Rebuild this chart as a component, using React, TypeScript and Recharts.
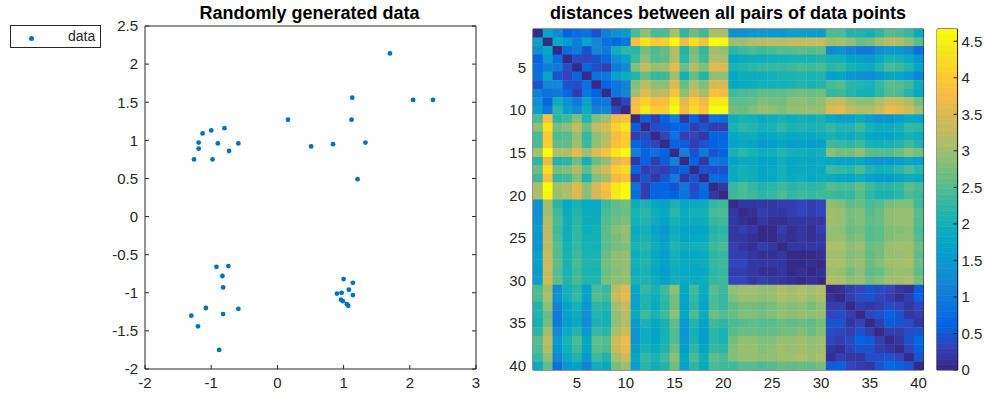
import React from 'react'
import { ScatterChart, Scatter, XAxis, YAxis, Legend, BarChart, Bar, ReferenceArea } from 'recharts'

// the 40 random points, in the order used for the distance matrix
const pointX = [1.21, 1.7, 0.16, 0.84, 1.12, 0.51, 1.33, 1.13, 2.05, 2.35,
  -0.92, -1.08, -0.82, -0.59, -0.88, -0.74, -0.82, -0.83, -1.2, -1.3,
  1.0, 1.14, 1.08, 0.9, 0.97, 1.14, 0.99, 1.05, 0.96, 1.07,
  -1.13, -1.19, -0.9, -0.8, -0.73, -0.98, -1.26, -1.19, -1.0, -0.59]
const pointY = [0.49, 2.14, 1.27, 0.95, 1.27, 0.92, 0.97, 1.56, 1.53, 1.53,
  -0.66, -1.2, -0.93, -1.21, -1.75, -0.65, -1.28, -0.78, -1.44, -1.3,
  -0.82, -0.87, -0.96, -1.01, -1.0, -1.03, -1.11, -1.15, -1.09, -1.17,
  1.09, 0.97, 0.96, 1.16, 0.86, 0.75, 0.75, 0.89, 1.13, 0.96]

const scatterXTicks = [-2, -1, 0, 1, 2, 3]
const scatterYTicks = [-2, -1.5, -1, -0.5, 0, 0.5, 1, 1.5, 2, 2.5]
const matrixTicks = [5, 10, 15, 20, 25, 30, 35, 40]
const colorbarTicks = [0, 0.5, 1, 1.5, 2, 2.5, 3, 3.5, 4, 4.5]

// parula colormap key colours
const PARULA = ['#352a87', '#3243ba', '#0363e1', '#0d75dc', '#1485d4', '#0998d1', '#06a7c6', '#15b1b4',
  '#38b99e', '#65be86', '#92bf73', '#b7bd64', '#d9ba56', '#f8bb44', '#fcce2e', '#f5e41d', '#f9fb0e']

const FONT = '"Liberation Sans", Arial, Helvetica, sans-serif'
const AX = '#262626'
const BLUE = '#0072bd'

function hexToRgb(h: string) {
  return [parseInt(h.slice(1, 3), 16), parseInt(h.slice(3, 5), 16), parseInt(h.slice(5, 7), 16)]
}

function parula(i: number) {
  const t = (i / 63) * (PARULA.length - 1)
  const k = Math.min(Math.floor(t), PARULA.length - 2)
  const f = t - k
  const a = hexToRgb(PARULA[k])
  const b = hexToRgb(PARULA[k + 1])
  const c = a.map((v, n) => Math.round(v + (b[n] - v) * f))
  return `rgb(${c[0]},${c[1]},${c[2]})`
}

const points = pointX.map((x, i) => ({ x, y: pointY[i] }))

// distances between all pairs
const dist = pointX.map((x1, i) => pointX.map((x2, j) => Math.hypot(x1 - x2, pointY[i] - pointY[j])))
const vmax = Math.max(...dist.flat())

const cells: { x: number; y: number; fill: string }[] = []
dist.forEach((row, r) => row.forEach((v, c) => {
  const idx = Math.min(63, Math.floor((v / vmax) * 64))
  cells.push({ x: c + 1, y: r + 1, fill: parula(idx) })
}))

const bandRow: Record<string, number | string> = { name: 'cb' }
for (let i = 0; i < 64; i++) bandRow[`b${i}`] = vmax / 64

// heatmap plot area is 390.5 x 341 px for 40 x 40 cells
const CW = 390.5 / 40
const CH = 341 / 40

const tickStyle = { fontSize: 15, fill: AX, fontFamily: FONT }

const Dot = (p: any) => <circle cx={p.cx} cy={p.cy} r={2.4} fill={BLUE} />
const CellRect = (p: any) => (
  <rect x={p.cx - CW / 2} y={p.cy - CH / 2} width={CW + 0.4} height={CH + 0.4} fill={p.payload.fill} />
)

const LegendBox = () => (
  <div style={{ width: 89, height: 21, border: `1px solid ${AX}`, background: '#fff', position: 'relative', fontFamily: FONT }}>
    <span style={{ position: 'absolute', left: 17.5, top: 9.5, width: 5, height: 5, borderRadius: 3, background: BLUE }} />
    <span style={{ position: 'absolute', left: 57, top: 2, fontSize: 14, color: AX }}>data</span>
  </div>
)

const titleStyle = (center: number): React.CSSProperties => ({
  position: 'absolute', left: center - 250, width: 500, top: 3, textAlign: 'center',
  fontFamily: FONT, fontWeight: 'bold', fontSize: 18, lineHeight: '20px', color: '#000',
})

export default function App() {
  return (
    <div style={{ position: 'absolute', left: 0, top: 0, width: 984, height: 396, background: '#fff', fontFamily: FONT }}>
      <div style={{ position: 'absolute', left: 0, top: 0 }}>
        <ScatterChart width={500} height={396} margin={{ top: 25, right: 23, bottom: 0, left: 0 }}>
          <Scatter xAxisId="b" yAxisId="l" data={points} shape={Dot} isAnimationActive={false} />
          <XAxis xAxisId="b" type="number" dataKey="x" domain={[-2, 3]} ticks={scatterXTicks} interval={0}
            allowDataOverflow height={27} tickSize={-4} tickMargin={12} stroke={AX} tick={tickStyle} />
          <XAxis xAxisId="t" orientation="top" type="number" domain={[-2, 3]} ticks={scatterXTicks} interval={0}
            allowDataOverflow height={1} tickSize={-4} tickFormatter={() => ''} stroke={AX} />
          <YAxis yAxisId="l" type="number" dataKey="y" domain={[-2, 2.5]} ticks={scatterYTicks} interval={0}
            allowDataOverflow width={145} tickSize={-4} tickMargin={11} stroke={AX} tick={tickStyle} />
          <YAxis yAxisId="r" orientation="right" type="number" domain={[-2, 2.5]} ticks={scatterYTicks} interval={0}
            allowDataOverflow width={1} tickSize={-4} tickFormatter={() => ''} stroke={AX} />
          <Legend content={<LegendBox />} layout="horizontal" verticalAlign="middle" align="center"
            wrapperStyle={{ left: 10, top: 25, width: 91, height: 23 }} />
        </ScatterChart>
      </div>
      <div style={titleStyle(309.5)}>Randomly generated data</div>

      <div style={{ position: 'absolute', left: 490, top: 0 }}>
        <ScatterChart width={450} height={396} margin={{ top: 28, right: 15.5, bottom: 0, left: 0 }}>
          <Scatter xAxisId="b" yAxisId="l" data={cells} shape={CellRect} isAnimationActive={false} />
          <XAxis xAxisId="b" type="number" dataKey="x" domain={[0.5, 40.5]} ticks={matrixTicks} interval={0}
            allowDataOverflow height={26} tickSize={-4} tickMargin={11} stroke={AX} tick={tickStyle} />
          <XAxis xAxisId="t" orientation="top" type="number" domain={[0.5, 40.5]} ticks={matrixTicks} interval={0}
            allowDataOverflow height={1} tickSize={-4} tickFormatter={() => ''} stroke={AX} />
          <YAxis yAxisId="l" type="number" dataKey="y" reversed domain={[0.5, 40.5]} ticks={matrixTicks} interval={0}
            allowDataOverflow width={43} tickSize={-4} tickMargin={11} stroke={AX} tick={tickStyle} />
          <YAxis yAxisId="r" orientation="right" type="number" reversed domain={[0.5, 40.5]} ticks={matrixTicks} interval={0}
            allowDataOverflow width={1} tickSize={-4} tickFormatter={() => ''} stroke={AX} />
        </ScatterChart>
      </div>
      <div style={titleStyle(728)}>distances between all pairs of data points</div>

      <div style={{ position: 'absolute', left: 930, top: 0 }}>
        <BarChart width={54} height={396} data={[bandRow]} barCategoryGap={0}
          margin={{ top: 29, right: 0, bottom: 26, left: 7 }}>
          <XAxis dataKey="name" hide />
          {Array.from({ length: 64 }, (_, i) => (
            <Bar key={i} dataKey={`b${i}`} stackId="cb" fill={parula(i)} stroke={parula(i)} strokeWidth={0.7}
              isAnimationActive={false} />
          ))}
          <YAxis orientation="right" type="number" domain={[0, vmax]} ticks={colorbarTicks} interval={0}
            allowDataOverflow width={26.5} tickSize={-4} tickMargin={8} stroke={AX} tick={tickStyle} />
          <ReferenceArea y1={0} y2={vmax} fill="none" stroke={AX} strokeWidth={1} ifOverflow="visible" />
        </BarChart>
      </div>
    </div>
  )
}
